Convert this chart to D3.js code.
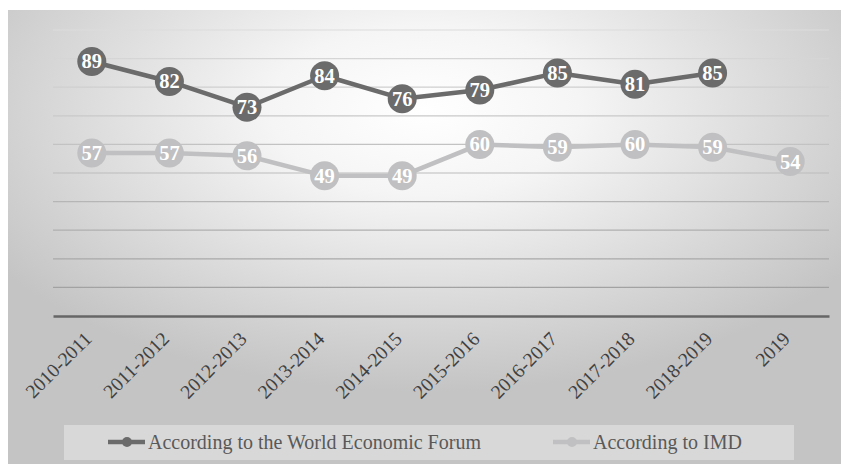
<!DOCTYPE html>
<html>
<head>
<meta charset="utf-8">
<script src="https://cdn.jsdelivr.net/npm/d3@7"></script>
<style>
  html, body { margin: 0; padding: 0; background: #ffffff; }
  svg { display: block; }
</style>
</head>
<body>
<svg id="chart" width="841" height="464"></svg>
<script>
const categories = ["2010-2011", "2011-2012", "2012-2013", "2013-2014", "2014-2015", "2015-2016", "2016-2017", "2017-2018", "2018-2019", "2019"];
const wefValues = [89, 82, 73, 84, 76, 79, 85, 81, 85, null];
const imdValues = [57, 57, 56, 49, 49, 60, 59, 60, 59, 54];
const seriesNames = ["According to the World Economic Forum", "According to IMD"];
const yTicks = [10, 20, 30, 40, 50, 60, 70, 80, 90, 100];

const W = 841, H = 464;
const plot = { left: 53, right: 829, top: 30, bottom: 316 };
const FONT = "'Liberation Serif', 'Times New Roman', Times, serif";
const darkColor = "#6b6b6b";
const lightColor = "#c0c0c2";

const svg = d3.select("#chart");
const defs = svg.append("defs");
const grad = defs.append("radialGradient")
  .attr("id", "bg")
  .attr("cx", 0.5).attr("cy", 0.22).attr("r", 0.62)
  .attr("fx", 0.5).attr("fy", 0.22);
grad.append("stop").attr("offset", "0%").attr("stop-color", "#ffffff");
grad.append("stop").attr("offset", "30%").attr("stop-color", "#f5f5f5");
grad.append("stop").attr("offset", "100%").attr("stop-color", "#c4c4c4");

const gridGrad = defs.append("linearGradient")
  .attr("id", "gridg").attr("gradientUnits", "userSpaceOnUse")
  .attr("x1", 0).attr("y1", plot.top).attr("x2", 0).attr("y2", plot.bottom);
gridGrad.append("stop").attr("offset", "0%").attr("stop-color", "#dcdcdc");
gridGrad.append("stop").attr("offset", "100%").attr("stop-color", "#9c9c9c");

svg.append("rect").attr("x", 8).attr("y", 10).attr("width", W - 8).attr("height", H - 10)
  .attr("fill", "url(#bg)");

const x = d3.scaleBand().domain(categories).range([plot.left, plot.right]).padding(0);
const y = d3.scaleLinear().domain([0, 100]).range([plot.bottom, plot.top]);
const cx = d => x(d) + x.bandwidth() / 2;

// gridlines
svg.append("g").selectAll("line").data(yTicks).join("line")
  .attr("x1", plot.left).attr("x2", plot.right)
  .attr("y1", d => y(d)).attr("y2", d => y(d))
  .attr("stroke", "url(#gridg)").attr("stroke-width", 1.2);

// x axis
const xAxis = svg.append("g").attr("transform", `translate(0,${plot.bottom})`)
  .call(d3.axisBottom(x).tickSize(0).tickPadding(0));
xAxis.select(".domain").attr("stroke", "#666666").attr("stroke-width", 2.5);
xAxis.selectAll(".tick text")
  .attr("font-family", FONT).attr("font-size", 19.5).attr("fill", "#404040")
  .attr("text-anchor", "end")
  .attr("dy", "0")
  .attr("transform", "translate(1,24) rotate(-45)");

// series
function drawSeries(values, color) {
  const pts = categories.map((c, i) => ({ c, v: values[i] })).filter(p => p.v != null);
  const line = d3.line().x(p => cx(p.c)).y(p => y(p.v));
  const g = svg.append("g");
  g.append("path").datum(pts).attr("d", line)
    .attr("fill", "none").attr("stroke", color).attr("stroke-width", 4.5)
    .attr("stroke-linejoin", "round");
  g.selectAll("circle").data(pts).join("circle")
    .attr("cx", p => cx(p.c)).attr("cy", p => y(p.v)).attr("r", 14.5)
    .attr("fill", color);
  g.selectAll("text").data(pts).join("text")
    .attr("x", p => cx(p.c)).attr("y", p => y(p.v) + 7)
    .attr("text-anchor", "middle")
    .attr("font-family", FONT).attr("font-weight", "bold").attr("font-size", 20.5)
    .attr("fill", "#ffffff")
    .text(p => p.v);
}
drawSeries(wefValues, darkColor);
drawSeries(imdValues, lightColor);

// legend
const lg = svg.append("g");
lg.append("rect").attr("x", 64).attr("y", 425).attr("width", 730).attr("height", 35)
  .attr("fill", "#ffffff").attr("fill-opacity", 0.35);
const legendItems = [
  { name: seriesNames[0], color: darkColor, x: 108 },
  { name: seriesNames[1], color: lightColor, x: 553 }
];
legendItems.forEach(it => {
  lg.append("line").attr("x1", it.x).attr("x2", it.x + 37).attr("y1", 442).attr("y2", 442)
    .attr("stroke", it.color).attr("stroke-width", 4.5);
  lg.append("circle").attr("cx", it.x + 19).attr("cy", 442).attr("r", 5).attr("fill", it.color);
  lg.append("text").attr("x", it.x + 40).attr("y", 449)
    .attr("font-family", FONT).attr("font-size", 20).attr("fill", "#595959")
    .text(it.name);
});
</script>
</body>
</html>
